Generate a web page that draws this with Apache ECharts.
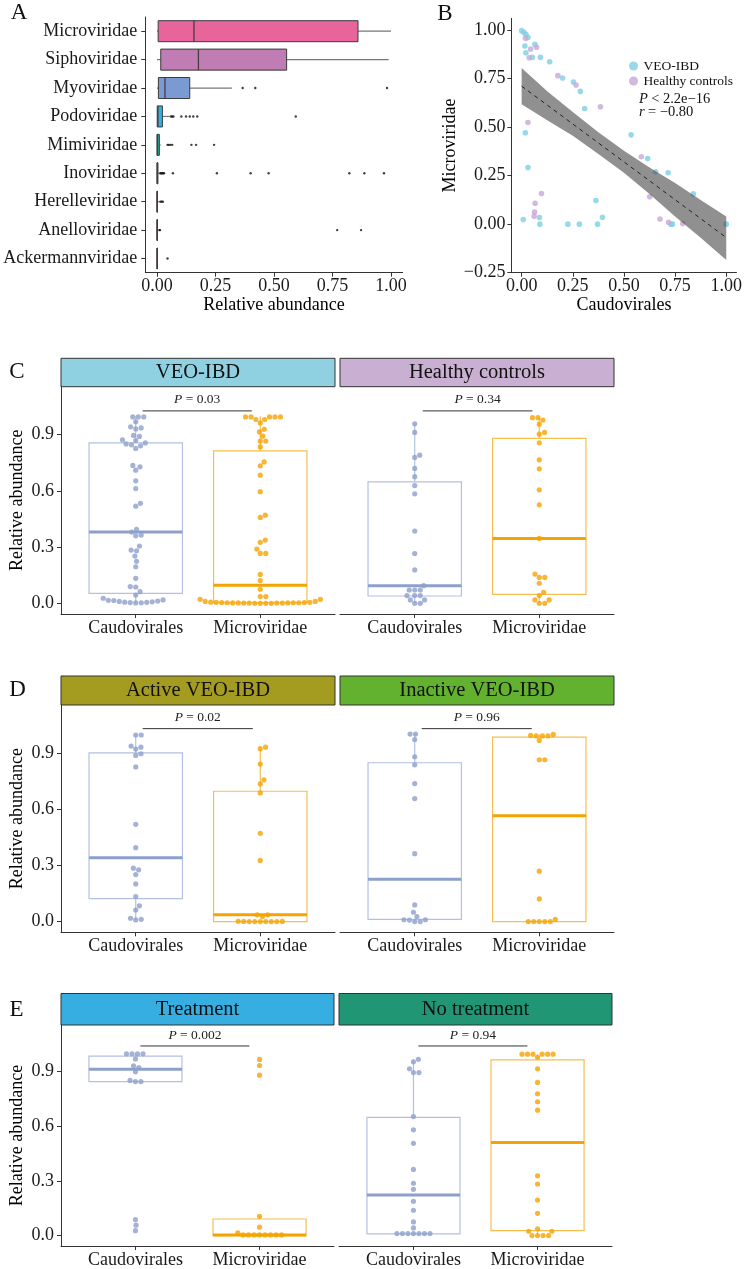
<!DOCTYPE html>
<html><head><meta charset="utf-8">
<script src="https://cdn.jsdelivr.net/npm/echarts@6/dist/echarts.min.js"></script>
<style>html,body{margin:0;padding:0;background:#fff}#c{width:745px;height:1269px}</style>
</head><body><div id="c"></div>
<script>
// ================= DATA =================
// ---- Panel A: family relative abundance (box stats) ----
const familyNames = ['Microviridae','Siphoviridae','Myoviridae','Podoviridae','Mimiviridae','Inoviridae','Herelleviridae','Anelloviridae','Ackermannviridae'];
const familyMin    = [0, 0, 0, 0, 0, 0, 0, 0, 0];
const familyQ1     = [0.005, 0.016, 0.006, 0.001, 0, 0, 0, 0, 0];
const familyMedian = [0.158, 0.177, 0.034, 0.004, 0.002, 0.001, 0, 0, 0];
const familyQ3     = [0.859, 0.554, 0.14, 0.023, 0.01, 0.004, 0.002, 0.001, 0];
const familyMax    = [1.0, 0.99, 0.32, 0.055, 0.016, 0.011, 0.012, 0.006, 0.001];
const familyOutliers = [
  [], [],
  [0.366, 0.42, 0.983],
  [0.06, 0.065, 0.07, 0.104, 0.124, 0.14, 0.155, 0.172, 0.593],
  [0.045, 0.05, 0.057, 0.065, 0.147, 0.167, 0.244],
  [0.014, 0.018, 0.022, 0.026, 0.03, 0.068, 0.256, 0.4, 0.477, 0.822, 0.886, 0.97],
  [0.015, 0.02, 0.025],
  [0.01, 0.013, 0.77, 0.872],
  [0.045]
];
const abundanceTicks = [0, 0.25, 0.5, 0.75, 1];

// ---- Panel B: Caudovirales vs Microviridae ----
const veoCaudo = [0,0.011,0.021,0.031,0.016,0.021,0.065,0.052,0.092,0.137,0.2,0.253,0.287,0.308,0.018,0.031,0.008,0.087,0.089,0.226,0.282,0.363,0.371,0.395,0.535,0.616,0.655,0.716,0.729,0.737,0.839,1.0];
const veoMicro = [0.997,0.988,0.978,0.962,0.918,0.883,0.926,0.859,0.859,0.837,0.753,0.732,0.684,0.596,0.471,0.292,0.024,0.034,0,0,0,0.122,0,0.036,0.46,0.338,0.27,0.265,0,0,0.156,0];
const hcCaudo = [0.019,0.044,0.073,0.037,0.177,0.266,0.385,0.031,0.097,0.066,0.063,0.061,0.585,0.626,0.676,0.718,0.787];
const hcMicro = [0.957,0.902,0.911,0.857,0.765,0.717,0.605,0.524,0.158,0.108,0.062,0.041,0.347,0.141,0.027,0.01,0.003];
const fitX = [0, 1];
const fitY = [0.711, -0.069];
const bandX = [0, 0.125, 0.25, 0.375, 0.5, 0.625, 0.75, 0.875, 1];
const bandUpper = [0.805, 0.685, 0.578, 0.474, 0.378, 0.292, 0.212, 0.125, 0.04];
const bandLower = [0.618, 0.535, 0.455, 0.362, 0.265, 0.155, 0.04, -0.07, -0.185];
const scatterXTicks = [0, 0.25, 0.5, 0.75, 1];
const scatterYTicks = [-0.25, 0, 0.25, 0.5, 0.75, 1];
const statLines = ['< 2.2e−16', '= −0.80'];

// ---- Panels C–E: per-sample relative abundance ----
const groupLabels = ['Caudovirales', 'Microviridae'];
const facetTicks = [0, 0.3, 0.6, 0.9];

const cVeoCaudo = [0.994,0.994,0.994,0.968,0.941,0.935,0.93,0.895,0.89,0.872,0.868,0.855,0.85,0.845,0.84,0.826,0.735,0.728,0.71,0.653,0.612,0.533,0.518,0.394,0.38,0.364,0.36,0.305,0.284,0.28,0.252,0.224,0.195,0.133,0.089,0.087,0.062,0.044,0.027,0.018,0.016,0.015,0.012,0.01,0.008,0.006,0.005,0.004,0.003,0.002];
const cVeoMicro = [0.994,0.994,0.994,0.994,0.994,0.98,0.98,0.962,0.928,0.914,0.891,0.865,0.865,0.834,0.754,0.733,0.683,0.595,0.47,0.458,0.337,0.325,0.289,0.266,0.266,0.154,0.121,0.075,0.036,0.036,0.021,0.021,0.01,0.01,0.006,0.005,0.005,0.004,0.004,0.003,0.003,0.003,0.002,0.002,0.002,0.001,0.001,0.001,0.001,0,0,0,0];
const cHcCaudo = [0.957,0.911,0.79,0.778,0.719,0.675,0.628,0.584,0.385,0.265,0.178,0.094,0.071,0.071,0.071,0.041,0.041,0.041,0.018,0.018,0,0];
const cHcMicro = [0.99,0.99,0.977,0.955,0.911,0.902,0.856,0.765,0.717,0.605,0.525,0.346,0.156,0.138,0.138,0.107,0.059,0.041,0.018,0.018,0,0];
const dActCaudo = [0.995,0.995,0.936,0.93,0.92,0.895,0.886,0.825,0.519,0.394,0.285,0.276,0.251,0.201,0.134,0.084,0.062,0.018,0.012,0.009];
const dActMicro = [0.93,0.922,0.84,0.756,0.734,0.686,0.471,0.326,0.036,0.036,0.027,0.002,0.001,0.001,0,0,0,0,0,0];
const dInaCaudo = [1.0,1.0,0.971,0.879,0.836,0.736,0.656,0.362,0.089,0.05,0.027,0.01,0.01,0.008,0,0];
const dInaMicro = [0.998,0.993,0.99,0.99,0.99,0.966,0.863,0.863,0.269,0.121,0.012,0,0,0,0,0];
const eTrtCaudo = [0.997,0.997,0.997,0.997,0.969,0.931,0.922,0.898,0.851,0.845,0.845,0.088,0.057,0.027];
const eTrtMicro = [0.966,0.933,0.88,0.106,0.046,0.015,0.004,0.004,0.004,0.004,0.004,0.004,0.004,0.004];
const eNoCaudo = [0.967,0.953,0.915,0.894,0.894,0.653,0.58,0.506,0.363,0.287,0.254,0.188,0.139,0.075,0.042,0.011,0.011,0.011,0.011,0.011,0.011,0.011];
const eNoMicro = [0.995,0.995,0.995,0.995,0.995,0.995,0.978,0.915,0.84,0.778,0.734,0.688,0.328,0.283,0.195,0.122,0.037,0.024,0.024,0,0,0,0];

// box stats [min, Q1, median, Q3, max] for Caudovirales, Microviridae
const cVeoBox = [[0,0.053,0.38,0.855,0.997],[0,0.003,0.096,0.813,0.997]];
const cHcBox  = [[0,0.039,0.094,0.648,0.957],[0,0.048,0.346,0.879,0.99]];
const dActBox = [[0.009,0.123,0.34,0.9,0.995],[0,0,0.036,0.695,0.93]];
const dInaBox = [[0,0.012,0.226,0.847,1.0],[0,0,0.565,0.984,0.998]];
const eTrtBox = [[0.845,0.845,0.913,0.984,0.997],[0,0,0.004,0.091,0.106]];
const eNoBox  = [[0,0.009,0.223,0.648,0.967],[0,0.027,0.511,0.964,0.995]];

const facetTitles = ['VEO-IBD','Healthy controls','Active VEO-IBD','Inactive VEO-IBD','Treatment','No treatment'];
const facetPValues = ['0.03','0.34','0.02','0.96','0.002','0.94'];
const bracketStart = [1.055,1.064,1.056,1.056,1.04,1.04];
const bracketEnd   = [1.932,1.945,1.94,1.94,1.918,1.918];
const bracketY     = [1.026,1.026,1.029,1.029,1.04,1.04];

// ================= STYLE / LAYOUT =================
const FF = "'Liberation Serif','DejaVu Serif',serif";
const TXT = '#1a1a1a';
const AX = '#333';
const familyColors = ['#E7659B','#BF7DB3','#7A9BD1','#2BB5E2','#1DB79C','#1F5C34','#222','#222','#222'];
const stripColors = ['#8FD0E1','#C9AFD1','#A49C21','#62B22F','#36AEE2','#219674'];
const dotColors = ['#8DA0CB', '#F5A300'];
const boxLineColors = ['#B3C0E4', '#F7BE4E'];
const medianColors = ['#8DA0CB', '#F5A300'];
const facetData = [
  [cVeoCaudo, cVeoMicro, cVeoBox], [cHcCaudo, cHcMicro, cHcBox],
  [dActCaudo, dActMicro, dActBox], [dInaCaudo, dInaMicro, dInaBox],
  [eTrtCaudo, eTrtMicro, eTrtBox], [eNoCaudo, eNoMicro, eNoBox]
];
const facetLayout = [
  {left:61, top:386.7, width:274, height:227.3, stripH:28.4},
  {left:340, top:386.7, width:274, height:227.3, stripH:28.4},
  {left:61, top:705, width:274, height:227.3, stripH:29},
  {left:340, top:705, width:274, height:227.3, stripH:29},
  {left:61, top:1025, width:273, height:221, stripH:31.5},
  {left:339, top:1025, width:273, height:221, stripH:31.5}
];
const facetYMin = -0.057, facetYMax = 1.155;
const facetXMin = 0.4, facetXMax = 2.6;
const DOT = 5.2, DOT_GAP = 5.5;

// beeswarm layout (pixel space), returns x offsets in data units
function swarm(values, pxX, pxY, d) {
  const order = values.map((v, i) => i).sort((a, b) => values[a] - values[b]);
  const placed = [];
  const out = new Array(values.length).fill(0);
  for (const i of order) {
    const y = values[i] * pxY;
    const cands = [0];
    for (const p of placed) {
      const dy = Math.abs(p.y - y);
      if (dy < d) {
        const dx = Math.sqrt(d * d - dy * dy) + 0.01;
        cands.push(p.x + dx, p.x - dx);
      }
    }
    cands.sort((a, b) => Math.abs(a) - Math.abs(b));
    let chosen = 0;
    for (const c of cands) {
      if (placed.every(p => (p.x - c) ** 2 + (p.y - y) ** 2 >= d * d - 0.05)) { chosen = c; break; }
    }
    placed.push({x: chosen, y});
    out[i] = chosen / pxX;
  }
  return out;
}

const axisLineStyle = {color: AX, width: 1};
const grids = [
  {left:145.3, top:17, width:257.4, height:255.7},
  {left:511.4, top:18.4, width:227.3, height:254.3}
];
const xAxes = [
  {gridIndex:0, type:'value', min:-0.05, max:1.05,
   axisLine:{show:true, onZero:false, lineStyle:axisLineStyle},
   axisTick:{show:true, length:4, customValues:abundanceTicks, lineStyle:axisLineStyle},
   axisLabel:{customValues:abundanceTicks, formatter:v=>v.toFixed(2), fontSize:18, color:TXT, fontFamily:FF, margin:5},
   splitLine:{show:false},
   name:'Relative abundance', nameLocation:'middle', nameGap:24,
   nameTextStyle:{fontSize:18, color:'#000', fontFamily:FF}},
  {gridIndex:1, type:'value', min:-0.05, max:1.05,
   axisLine:{show:true, onZero:false, lineStyle:axisLineStyle},
   axisTick:{show:true, length:4, customValues:scatterXTicks, lineStyle:axisLineStyle},
   axisLabel:{customValues:scatterXTicks, formatter:v=>v.toFixed(2), fontSize:18, color:TXT, fontFamily:FF, margin:5},
   splitLine:{show:false},
   name:'Caudovirales', nameLocation:'middle', nameGap:24,
   nameTextStyle:{fontSize:18, color:'#000', fontFamily:FF}}
];
const yAxes = [
  {gridIndex:0, type:'category', data:familyNames, inverse:true,
   axisLine:{show:true, onZero:false, lineStyle:axisLineStyle},
   axisTick:{show:true, length:4, alignWithLabel:true, lineStyle:axisLineStyle},
   axisLabel:{fontSize:18, color:TXT, fontFamily:FF, margin:8, interval:0}},
  {gridIndex:1, type:'value', min:-0.25, max:1.06,
   axisLine:{show:true, onZero:false, lineStyle:axisLineStyle},
   axisTick:{show:true, length:4, customValues:scatterYTicks, lineStyle:axisLineStyle},
   axisLabel:{customValues:scatterYTicks, formatter:v=>(v<0?'−':'')+Math.abs(v).toFixed(2), fontSize:18, color:TXT, fontFamily:FF, margin:6},
   splitLine:{show:false},
   name:'Microviridae', nameLocation:'middle', nameGap:52, nameRotate:90,
   nameTextStyle:{fontSize:18, color:'#000', fontFamily:FF}}
];

const series = [];
// ---- Panel A series ----
series.push({
  type:'custom', xAxisIndex:0, yAxisIndex:0, z:2, silent:true,
  data: familyNames.map((n, i) => [i, familyMin[i], familyQ1[i], familyMedian[i], familyQ3[i], familyMax[i]]),
  encode:{y:0, x:[1,2,3,4,5]},
  renderItem: function(params, api) {
    const cat = api.value(0);
    const mn = api.value(1), q1 = api.value(2), md = api.value(3), q3 = api.value(4), mx = api.value(5);
    const hh = api.size([0, 1])[1] * 0.37;
    const pMn = api.coord([mn, cat]), pQ1 = api.coord([q1, cat]), pMd = api.coord([md, cat]);
    const pQ3 = api.coord([q3, cat]), pMx = api.coord([mx, cat]);
    const cy = pQ1[1];
    const col = familyColors[params.dataIndex];
    return {type:'group', children:[
      {type:'line', shape:{x1:pMn[0], y1:cy, x2:pQ1[0], y2:cy}, style:{stroke:'#777', lineWidth:1.2}},
      {type:'line', shape:{x1:pQ3[0], y1:cy, x2:pMx[0], y2:cy}, style:{stroke:'#777', lineWidth:1.2}},
      {type:'rect', shape:{x:pQ1[0], y:cy - hh, width:Math.max(pQ3[0] - pQ1[0], 0.5), height:2 * hh},
       style:{fill:col, stroke:'#3a3a3a', lineWidth:1}},
      {type:'line', shape:{x1:pMd[0], y1:cy - hh, x2:pMd[0], y2:cy + hh}, style:{stroke:'#4a3a44', lineWidth:1.3}}
    ]};
  }
});
const outlierData = [];
familyOutliers.forEach((arr, i) => arr.forEach(v => outlierData.push([v, i])));
series.push({type:'scatter', xAxisIndex:0, yAxisIndex:0, z:3, silent:true, symbol:'circle', symbolSize:2.4,
  itemStyle:{color:'#111'}, data:outlierData});

// ---- Panel B series ----
series.push({name:'VEO-IBD', type:'scatter', xAxisIndex:1, yAxisIndex:1, z:2, silent:true, symbolSize:5.6,
  itemStyle:{color:'#7DCFE4'}, data:veoCaudo.map((x, i) => [x, veoMicro[i]])});
series.push({name:'Healthy controls', type:'scatter', xAxisIndex:1, yAxisIndex:1, z:2, silent:true, symbolSize:5.6,
  itemStyle:{color:'#C7A7D7'}, data:hcCaudo.map((x, i) => [x, hcMicro[i]])});
series.push({type:'custom', xAxisIndex:1, yAxisIndex:1, z:3, silent:true, data:[[0, 0]],
  renderItem: function(params, api) {
    const pts = [];
    bandX.forEach((x, i) => pts.push(api.coord([x, bandUpper[i]])));
    for (let i = bandX.length - 1; i >= 0; i--) pts.push(api.coord([bandX[i], bandLower[i]]));
    return {type:'polygon', shape:{points:pts}, style:{fill:'rgba(70,70,70,0.6)'}};
  }});
series.push({type:'line', xAxisIndex:1, yAxisIndex:1, z:4, silent:true, symbol:'none',
  lineStyle:{color:'#222', width:1, type:[4, 4]}, data:fitX.map((x, i) => [x, fitY[i]])});

// ---- Panels C–E ----
const graphic = [];
facetLayout.forEach((L, f) => {
  const g = grids.length;
  grids.push({left:L.left, top:L.top, width:L.width, height:L.height});
  const isLeft = (f % 2 === 0);
  xAxes.push({gridIndex:g, type:'value', min:facetXMin, max:facetXMax,
    axisLine:{show:true, onZero:false, lineStyle:axisLineStyle},
    axisTick:{show:true, length:4, customValues:[1, 2], lineStyle:axisLineStyle},
    axisLabel:{customValues:[1, 2], formatter:v => groupLabels[Math.round(v) - 1], fontSize:18, color:TXT, fontFamily:FF, margin:5},
    splitLine:{show:false}});
  if (isLeft) {
    yAxes.push({gridIndex:g, type:'value', min:facetYMin, max:facetYMax,
      axisLine:{show:true, onZero:false, lineStyle:axisLineStyle},
      axisTick:{show:true, length:4, customValues:facetTicks, lineStyle:axisLineStyle},
      axisLabel:{customValues:facetTicks, formatter:v => v.toFixed(1), fontSize:18, color:TXT, fontFamily:FF, margin:7},
      splitLine:{show:false},
      name:'Relative abundance', nameLocation:'middle', nameGap:35, nameRotate:90,
      nameTextStyle:{fontSize:18, color:'#000', fontFamily:FF}});
  } else {
    yAxes.push({gridIndex:g, type:'value', min:facetYMin, max:facetYMax, show:false});
  }
  const [caudo, micro, box] = facetData[f];
  const pxX = L.width / (facetXMax - facetXMin);
  const pxY = L.height / (facetYMax - facetYMin);
  // boxes
  series.push({type:'custom', xAxisIndex:g, yAxisIndex:g, z:2, silent:true,
    data: box.map((b, k) => [k + 1].concat(b)),
    encode:{x:0, y:[1,2,3,4,5]},
    renderItem: function(params, api) {
      const x = api.value(0), k = params.dataIndex;
      const mn = api.value(1), q1 = api.value(2), md = api.value(3), q3 = api.value(4), mx = api.value(5);
      const hw = 0.375;
      const tl = api.coord([x - hw, q3]), br = api.coord([x + hw, q1]);
      const mL = api.coord([x - hw, md]), mR = api.coord([x + hw, md]);
      const wT = api.coord([x, mx]), wQ3 = api.coord([x, q3]), wQ1 = api.coord([x, q1]), wB = api.coord([x, mn]);
      return {type:'group', children:[
        {type:'line', shape:{x1:wT[0], y1:wT[1], x2:wQ3[0], y2:wQ3[1]}, style:{stroke:boxLineColors[k], lineWidth:1.2}},
        {type:'line', shape:{x1:wQ1[0], y1:wQ1[1], x2:wB[0], y2:wB[1]}, style:{stroke:boxLineColors[k], lineWidth:1.2}},
        {type:'rect', shape:{x:tl[0], y:tl[1], width:br[0] - tl[0], height:br[1] - tl[1]},
         style:{fill:'rgba(255,255,255,0)', stroke:boxLineColors[k], lineWidth:1.2}},
        {type:'line', shape:{x1:mL[0], y1:mL[1], x2:mR[0], y2:mR[1]}, style:{stroke:medianColors[k], lineWidth:3}}
      ]};
    }});
  // dots
  [caudo, micro].forEach((vals, k) => {
    const off = swarm(vals, pxX, pxY, DOT_GAP);
    series.push({type:'scatter', xAxisIndex:g, yAxisIndex:g, z:3, silent:true, symbolSize:DOT,
      itemStyle:{color:dotColors[k]}, data:vals.map((v, i) => [k + 1 + off[i], v])});
  });
  // significance bracket
  series.push({type:'custom', xAxisIndex:g, yAxisIndex:g, z:4, silent:true,
    data:[[bracketStart[f], bracketEnd[f], bracketY[f]]],
    encode:{x:[0,1], y:2},
    renderItem: function(params, api) {
      const p1 = api.coord([api.value(0), api.value(2)]);
      const p2 = api.coord([api.value(1), api.value(2)]);
      return {type:'group', children:[
        {type:'line', shape:{x1:p1[0], y1:p1[1], x2:p2[0], y2:p2[1]}, style:{stroke:'#333', lineWidth:1}},
        {type:'text', x:(p1[0] + p2[0]) / 2, y:p1[1] - 11,
         style:{text:'{i|P}{n| = ' + facetPValues[f] + '}', align:'center', verticalAlign:'middle',
           rich:{i:{fontStyle:'italic', fontSize:13.5, fontFamily:FF, fill:'#222'},
                 n:{fontSize:13.5, fontFamily:FF, fill:'#222'}}}}
      ]};
    }});
  // strip
  graphic.push({type:'rect', shape:{x:L.left, y:L.top - L.stripH, width:L.width, height:L.stripH},
    style:{fill:stripColors[f], stroke:'#333', lineWidth:1}, silent:true});
  graphic.push({type:'text', x:L.left + L.width / 2, y:L.top - L.stripH / 2 + 0.5, silent:true,
    style:{text:facetTitles[f], fontSize:20.5, fontFamily:FF, fill:'#111', align:'center', verticalAlign:'middle'}});
});

// panel letters
[['A', 19, 13], ['B', 445, 14], ['C', 17, 372], ['D', 17.5, 690], ['E', 16.5, 1010]].forEach(([t, x, y]) => {
  graphic.push({type:'text', x, y, silent:true,
    style:{text:t, fontSize:23, fontFamily:FF, fill:'#111', align:'center', verticalAlign:'middle'}});
});
// Panel B statistics
graphic.push({type:'text', x:639, y:99, silent:true,
  style:{text:'{i|P} {n|' + statLines[0] + '}', align:'left', verticalAlign:'middle',
    rich:{i:{fontStyle:'italic', fontSize:14.5, fontFamily:FF, fill:'#111'}, n:{fontSize:14.5, fontFamily:FF, fill:'#111'}}}});
graphic.push({type:'text', x:639, y:112.5, silent:true,
  style:{text:'{i|r} {n|' + statLines[1] + '}', align:'left', verticalAlign:'middle',
    rich:{i:{fontStyle:'italic', fontSize:14.5, fontFamily:FF, fill:'#111'}, n:{fontSize:14.5, fontFamily:FF, fill:'#111'}}}});

const chart = echarts.init(document.getElementById('c'), null, {renderer:'canvas'});
chart.setOption({
  animation:false,
  backgroundColor:'#fff',
  textStyle:{fontFamily:FF},
  legend:{data:['VEO-IBD','Healthy controls'], orient:'vertical', left:624, top:54, itemWidth:10, itemHeight:9,
    itemGap:1, icon:'circle', selectedMode:false, textStyle:{fontSize:13.5, fontFamily:FF, color:'#111'}},
  grid:grids, xAxis:xAxes, yAxis:yAxes, series:series, graphic:graphic
});
</script></body></html>
